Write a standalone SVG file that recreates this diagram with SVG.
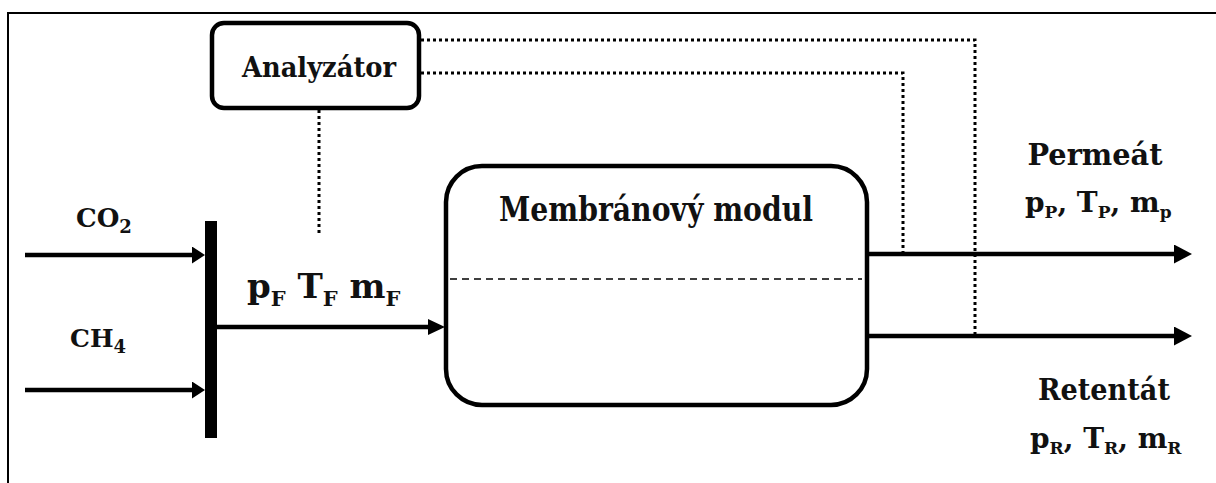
<svg xmlns="http://www.w3.org/2000/svg" width="1216" height="483" viewBox="0 0 1216 483">
  <style>
    .lbl { font-family: "DejaVu Serif", "Liberation Serif", serif; font-weight: bold; fill: #111; }
    .box { fill: #fff; stroke: #000; stroke-width: 4.5; }
    .flow { fill: none; stroke: #000; stroke-width: 4.5; }
    .signal { fill: none; stroke: #000; stroke-width: 3; stroke-dasharray: 3 3; }
    .sub { font-size: 18px; }
    .subM { font-size: 17px; }
    .subL { font-size: 21px; }
  </style>
  <defs>
    <marker id="arrow-in" markerUnits="userSpaceOnUse" markerWidth="14" markerHeight="18" refX="4" refY="8.5" orient="auto">
      <path d="M0,0 L13,8.5 L0,17 z" fill="#000"/>
    </marker>
    <marker id="arrow-feed" markerUnits="userSpaceOnUse" markerWidth="18" markerHeight="17" refX="4" refY="8" orient="auto">
      <path d="M0,0 L17,8 L0,16 z" fill="#000"/>
    </marker>
    <marker id="arrow-out" markerUnits="userSpaceOnUse" markerWidth="19" markerHeight="20" refX="4" refY="9.5" orient="auto">
      <path d="M0,0 L18,9.5 L0,19 z" fill="#000"/>
    </marker>
  </defs>

  <rect width="1216" height="483" fill="#fff"/>
  <!-- frame (only the top and left edges fall inside the view) -->
  <rect x="8" y="13" width="1400" height="700" fill="none" stroke="#000" stroke-width="2"/>

  <!-- connectors -->
  <g id="connectors">
    <line class="flow" x1="25" y1="255" x2="196" y2="255" marker-end="url(#arrow-in)"/>
    <line class="flow" x1="25" y1="390" x2="196" y2="390" marker-end="url(#arrow-in)"/>
    <line class="flow" x1="217" y1="327" x2="432" y2="327" marker-end="url(#arrow-feed)"/>
    <line class="flow" x1="867" y1="254" x2="1178" y2="254" marker-end="url(#arrow-out)"/>
    <line class="flow" x1="867" y1="336" x2="1178" y2="336" marker-end="url(#arrow-out)"/>
    <!-- measurement signals to the analyser -->
    <polyline class="signal" points="319,110 319,233"/>
    <polyline class="signal" points="421,40 975,40 975,334"/>
    <polyline class="signal" points="421,73 903,73 903,252"/>
  </g>

  <!-- mixing manifold -->
  <g id="mixer">
    <rect x="205" y="221" width="12" height="217" fill="#000"/>
  </g>

  <g id="analyzator">
    <rect class="box" x="212" y="23" width="207" height="85" rx="12"/>
    <text class="lbl" x="319" y="77" font-size="28" text-anchor="middle" textLength="154" lengthAdjust="spacingAndGlyphs">Analyzátor</text>
  </g>

  <g id="membranovy-modul">
    <rect class="box" x="446" y="166" width="421" height="239" rx="36"/>
    <line x1="450" y1="279" x2="862" y2="279" stroke="#000" stroke-width="1.5" stroke-dasharray="7 5"/>
    <text class="lbl" x="656" y="221" font-size="33" text-anchor="middle" textLength="314" lengthAdjust="spacingAndGlyphs">Membránový modul</text>
  </g>

  <g id="co2">
    <text class="lbl" x="76" y="227" font-size="26">CO<tspan class="sub" dy="6">2</tspan></text>
  </g>
  <g id="ch4">
    <text class="lbl" x="70" y="347" font-size="25">CH<tspan class="sub" dy="6">4</tspan></text>
  </g>

  <g id="feed-label">
    <text class="lbl" x="247" y="298" font-size="34">p<tspan class="subL" dy="8">F</tspan><tspan dy="-8"> T</tspan><tspan class="subL" dy="8">F</tspan><tspan dy="-8"> m</tspan><tspan class="subL" dy="8">F</tspan></text>
  </g>

  <g id="permeat">
    <text class="lbl" x="1095" y="165" font-size="29" text-anchor="middle" textLength="135" lengthAdjust="spacingAndGlyphs">Permeát</text>
    <text class="lbl" x="1025" y="212" font-size="28">p<tspan class="subM" dy="6">P</tspan><tspan dy="-6">, T</tspan><tspan class="subM" dy="6">P</tspan><tspan dy="-6">, m</tspan><tspan class="subM" dy="6">p</tspan></text>
  </g>

  <g id="retentat">
    <text class="lbl" x="1104" y="400" font-size="29" text-anchor="middle" textLength="132" lengthAdjust="spacingAndGlyphs">Retentát</text>
    <text class="lbl" x="1030" y="448" font-size="28">p<tspan class="subM" dy="6">R</tspan><tspan dy="-6">, T</tspan><tspan class="subM" dy="6">R</tspan><tspan dy="-6">, m</tspan><tspan class="subM" dy="6">R</tspan></text>
  </g>
</svg>
